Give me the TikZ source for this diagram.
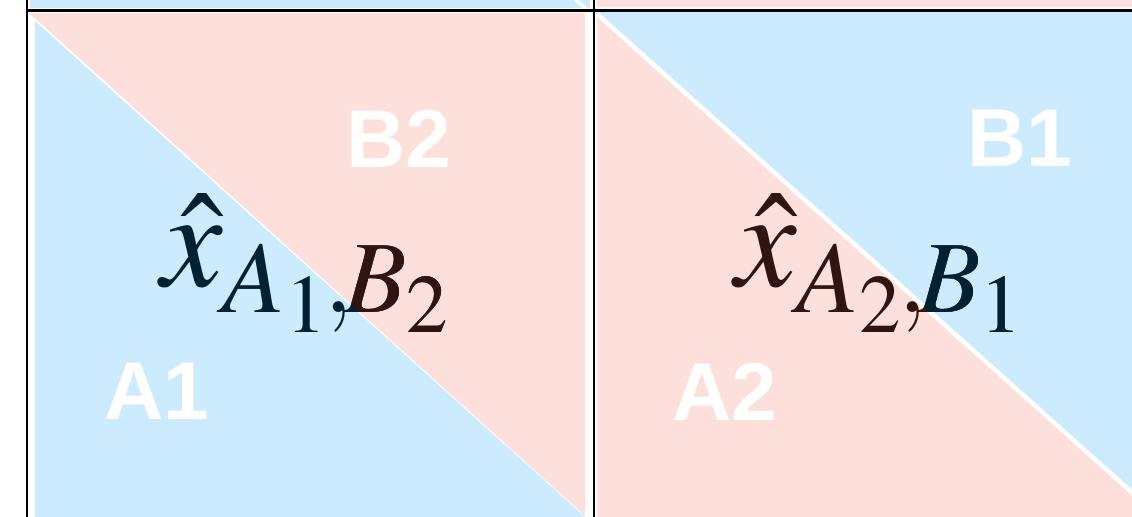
\documentclass[tikz,border=0pt]{standalone}
\usepackage{mathptmx}
\usepackage{fontspec}
\newfontfamily\labfam{Liberation Sans}
\definecolor{cblue}{RGB}{204,235,255}
\definecolor{cpink}{RGB}{253,224,219}
\definecolor{navy}{RGB}{0,33,51}
\definecolor{dbrown}{RGB}{48,20,16}
\newcommand\labfont{\labfam\bfseries\fontsize{41}{46}\selectfont}
\newcommand\mthfont{\fontsize{69}{80}\selectfont}
\newcommand\xab[2]{$\hat{x}_{\lower2.5pt\hbox{$\scriptstyle A_{#1}\mkern-0.5mu,\mkern-1.5mu B_{#2}$}}$}
\begin{document}
\begin{tikzpicture}[x=0.5pt,y=-0.5pt,
  lab/.style={font=\labfont, text=white, inner sep=0pt, anchor=center},
  mth/.style={font=\mthfont, inner sep=0pt, anchor=base west},
  grid/.style={draw=black, line width=1.2pt},
  gap/.style={draw=white}]
\useasboundingbox (0,0) rectangle (1132,517);
\fill[white] (0,0) rectangle (1132,517);
% top strip (bottom of the cells above)
\fill[cblue] (30,0) rectangle (590,8);
\draw[gap, line width=1.6pt] (574,-2) -- (587,10);
\fill[cpink] (597,0) rectangle (1132,7);
% left panel
\fill[cpink] (30,13) rectangle (585,517);
\fill[white] (29,13) -- (29,517) -- (586,517) -- cycle;
\fill[cblue] (35,21) -- (35,517) -- (585,517) -- cycle;
% right panel
\fill[cblue] (597,12) rectangle (1132,517);
\fill[cpink] (597,14) -- (597,530) -- (1174,530) -- cycle;
\draw[gap, line width=2.2pt] (597,14) -- (1174,530);
% grid lines
\draw[grid] (27,0) -- (27,517);
\draw[grid] (594,0) -- (594,517);
\draw[grid] (26,10.5) -- (1132,10.5);
% region labels
\node[lab] (b2) at (399,139) {B2};
\node[lab] (a1) at (157,391) {A1};
\node[lab] (b1) at (1020,138) {B1};
\node[lab] (a2) at (725,392) {A2};
% math labels
\node[mth, text=navy] (m1) at (161,287) {\xab{1}{2}};
\begin{scope}
  \clip (30,13) -- (585,13) -- (585,517) -- cycle;
  \node[mth, text=dbrown] (m1b) at (161,287) {\xab{1}{2}};
\end{scope}
\node[mth, text=dbrown] (m2) at (735,287) {\xab{2}{1}};
\begin{scope}
  \clip (597,14) -- (1174,530) -- (1174,0) -- (597,0) -- cycle;
  \clip (597,12) rectangle (1132,517);
  \node[mth, text=navy] (m2b) at (735,287) {\xab{2}{1}};
\end{scope}
\end{tikzpicture}
\end{document}
